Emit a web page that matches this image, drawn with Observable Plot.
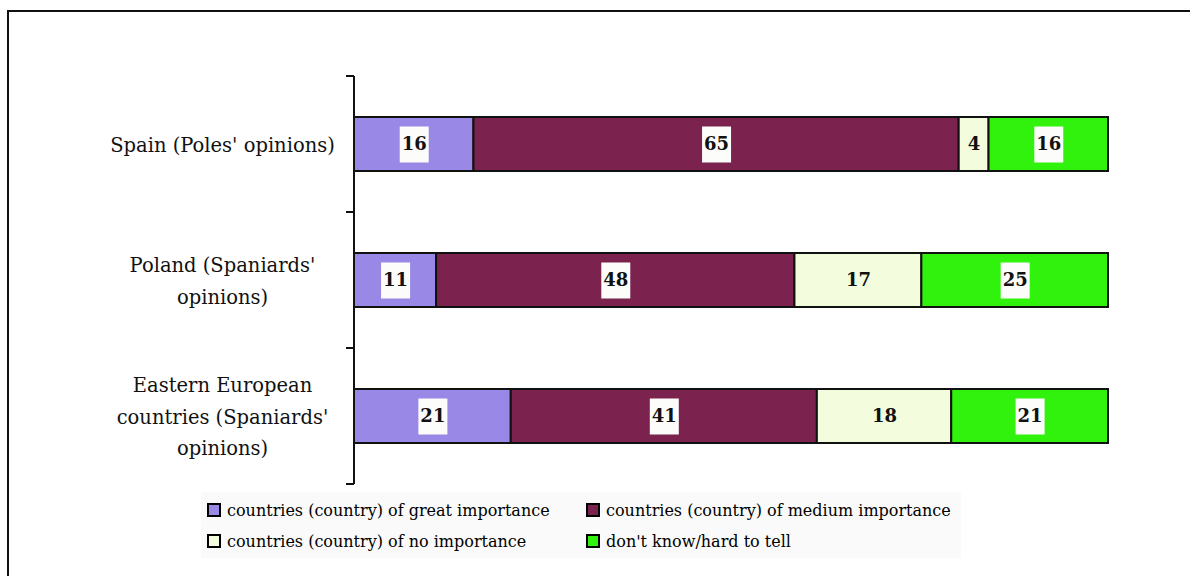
<!DOCTYPE html>
<html>
<head>
<meta charset="utf-8">
<script src="https://cdn.jsdelivr.net/npm/d3@7"></script>
<script src="https://cdn.jsdelivr.net/npm/@observablehq/plot@0.6"></script>
<style>
  body { margin: 0; background: #fff; width: 1190px; height: 576px; overflow: hidden; position: relative;
         font-family: "DejaVu Serif", serif; }
  #frame { position: absolute; left: 7px; top: 10px; width: 1300px; height: 700px;
           border-left: 2px solid #111; border-top: 2px solid #111; }
  #chart { position: absolute; left: 0; top: 0; }
  #legend { position: absolute; left: 201px; top: 492px; width: 760px; height: 66px; background: #fafafa; }
  .item { position: absolute; display: flex; align-items: center; height: 24px;
          font-size: 16px; color: #000; white-space: nowrap; }
  .sw { width: 10px; height: 10px; border: 2px solid #000; margin-right: 6px; flex: none; }
</style>
</head>
<body>
<div id="frame"></div>
<div id="chart"></div>
<div id="legend"></div>
<script>
// Survey groups (top to bottom) and their wrapped labels
const groups = ["Spain (Poles' opinions)", "Poland (Spaniards' opinions)", "Eastern European countries (Spaniards' opinions)"];
const groupLabels = ["Spain (Poles' opinions)", "Poland (Spaniards'\nopinions)", "Eastern European\ncountries (Spaniards'\nopinions)"];

// Answer categories, in stacking order, and their colours
const answers = [
  "countries (country) of great importance",
  "countries (country) of medium importance",
  "countries (country) of no importance",
  "don't know/hard to tell"
];
const answerColors = ["#9a88e6", "#7b224e", "#f3fcdc", "#30f20c"];

// Percentages per group (same order as groups)
const greatImportance  = [16, 11, 21];
const mediumImportance = [65, 48, 41];
const noImportance     = [4, 17, 18];
const dontKnow         = [16, 25, 21];

const series = [greatImportance, mediumImportance, noImportance, dontKnow];
const rows = groups.flatMap((group, gi) =>
  answers.map((answer, ai) => ({group, answer, value: series[ai][gi]}))
);

// Value labels sit on a small white box, except on the pale segments
const labelBox = {draw(context) { context.rect(-14.5, -18, 29, 36); }};

// Category axis: vertical line with ticks between the bands
function bandAxis(index, scales, values, dimensions) {
  const y = scales.y;
  const gap = (y.step() - y.bandwidth()) / 2;
  const x0 = dimensions.marginLeft;
  const edges = groups.map(g => y(g) - gap).concat([y(groups[groups.length - 1]) + y.bandwidth() + gap]);
  const g = d3.create("svg:g").attr("stroke", "#111").attr("stroke-width", 2).attr("fill", "none");
  g.append("path").attr("d", `M${x0},${edges[0]}V${edges[edges.length - 1]}`);
  for (const e of edges) g.append("path").attr("d", `M${x0 - 8},${e}H${x0}`);
  return g.node();
}

const stackOpts = {x: "value", y: "group", z: "answer", order: answers, offset: "normalize"};

const chart = Plot.plot({
  width: 1190,
  height: 490,
  marginLeft: 354,
  marginRight: 82,
  marginTop: 75,
  marginBottom: 5,
  style: {fontFamily: "'DejaVu Serif', serif", background: "transparent", overflow: "visible"},
  x: {domain: [0, 1], axis: null},
  y: {domain: groups, axis: null, paddingInner: 0.6, paddingOuter: 0.3},
  color: {domain: answers, range: answerColors},
  marks: [
    Plot.barX(rows, Plot.stackX({...stackOpts, fill: "answer", stroke: "#111", strokeWidth: 2})),
    Plot.dot(rows, Plot.stackX({
      ...stackOpts, r: 1, symbol: labelBox, fill: "#fcfcfa", stroke: null,
      fillOpacity: d => d.answer === answers[2] ? 0 : 1
    })),
    Plot.text(rows, Plot.stackX({
      ...stackOpts, text: d => String(d.value), fontWeight: "bold", fontSize: 18, fill: "#111"
    })),
    bandAxis,
    Plot.text(groups, {
      y: d => d, text: (d, i) => groupLabels[i], frameAnchor: "left", dx: -132, dy: -3,
      textAnchor: "middle", lineAnchor: "middle", fontSize: 19.5, lineHeight: 1.63, fill: "#111"
    })
  ]
});
document.getElementById("chart").append(chart);

// Legend: two columns, two rows
const legend = d3.select("#legend");
const spots = [[6, 6], [385, 6], [6, 37], [385, 37]];
answers.forEach((a, i) => {
  const item = legend.append("div").attr("class", "item")
    .style("left", spots[i][0] + "px").style("top", spots[i][1] + "px");
  item.append("div").attr("class", "sw").style("background", answerColors[i]);
  item.append("span").text(a);
});
</script>
</body>
</html>
